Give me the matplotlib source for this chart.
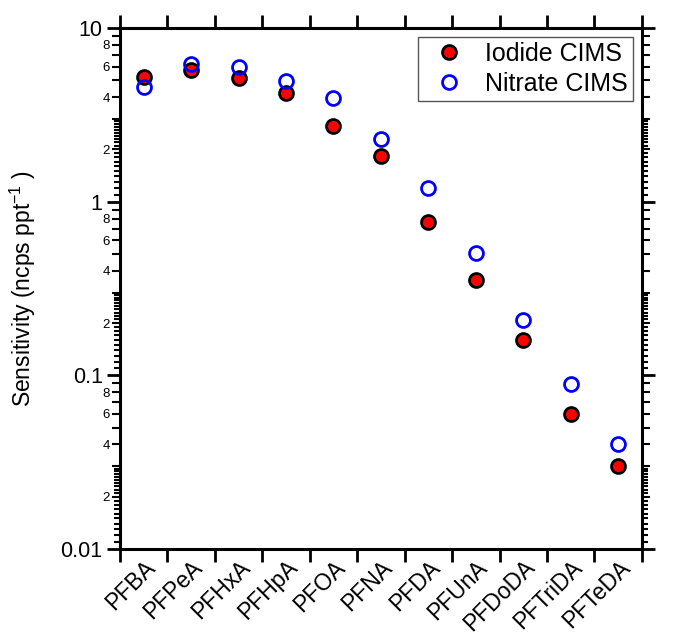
import matplotlib
matplotlib.use("Agg")
import matplotlib.pyplot as plt
import numpy as np
from matplotlib.ticker import FixedLocator, FixedFormatter, NullLocator

plt.rcParams["font.family"] = ["Liberation Sans", "DejaVu Sans"]

compounds = ["PFBA", "PFPeA", "PFHxA", "PFHpA", "PFOA", "PFNA",
             "PFDA", "PFUnA", "PFDoDA", "PFTriDA", "PFTeDA"]
iodide = [5.2, 5.75, 5.15, 4.2, 2.73, 1.83, 0.76, 0.355, 0.16, 0.060, 0.030]
nitrate = [4.55, 6.2, 6.0, 4.95, 3.95, 2.3, 1.2, 0.505, 0.208, 0.089, 0.040]

decades = [0.01, 0.1, 1, 10]
major_labels = ["0.01", "0.1", "1", "10"]

rect = [0.1775, 0.1395, 0.772, 0.8165]
fig = plt.figure(figsize=(6.76, 6.38), dpi=100)

# background axes only for the short sub-minor ticks (1.1 .. 2.9 in each decade)
ax_sub = fig.add_axes(rect, frameon=False)
ax_sub.set_yscale("log")
ax_sub.set_ylim(0.01, 10)
ax_sub.xaxis.set_major_locator(NullLocator())
sub_locs = [d * (1 + k / 10) for d in decades[:-1] for k in range(1, 20) if k != 10]
ax_sub.yaxis.set_major_locator(FixedLocator(sub_locs))
ax_sub.yaxis.set_minor_locator(NullLocator())
ax_sub.tick_params(axis="y", which="major", left=True, right=True, labelleft=False,
                   direction="out", length=4.5, width=1.5, color="black")

ax = fig.add_axes(rect)
ax.patch.set_alpha(0)

x = np.arange(len(compounds))
ax.plot(x, iodide, "o", ms=10, mfc="red", mec="black", mew=2,
        label="Iodide CIMS", zorder=3)
ax.plot(x, nitrate, "o", ms=10, mfc="none", mec="blue", mew=2,
        label="Nitrate CIMS", zorder=3)

ax.set_yscale("log")
ax.set_ylim(0.01, 10)
ax.set_xlim(-0.5, len(compounds) - 0.5)

ax.yaxis.set_major_locator(FixedLocator(decades))
ax.yaxis.set_major_formatter(FixedFormatter(major_labels))
minor_locs = [d * m for d in decades[:-1] for m in range(2, 10)]
minor_labs = [str(m) if m in (2, 4, 6, 8) else "" for d in decades[:-1] for m in range(2, 10)]
ax.yaxis.set_minor_locator(FixedLocator(minor_locs))
ax.yaxis.set_minor_formatter(FixedFormatter(minor_labs))

# x ticks at category boundaries, labels at centres
ax.set_xticks(np.arange(len(compounds) + 1) - 0.5)
ax.set_xticklabels([])
ax.set_xticks(x, minor=True)
ax.set_xticklabels(compounds, minor=True, rotation=45, ha="right",
                   rotation_mode="anchor", fontsize=16.5)

ax.tick_params(which="both", direction="out", top=True, right=True, labelright=False)
ax.tick_params(which="major", length=9.5, width=2, labelsize=15.5, pad=3)
ax.tick_params(axis="y", which="minor", length=6, width=1.5, labelsize=9.5, pad=1.5)
ax.tick_params(axis="x", which="minor", length=0, pad=5)
for s in ax.spines.values():
    s.set_linewidth(2.2)

ax.set_ylabel("Sensitivity (ncps ppt$^{\\mathregular{-1}}$ )", fontsize=16.5)
ax.yaxis.set_label_coords(-0.158, 0.5)

leg = ax.legend(loc="upper right", fontsize=18, frameon=True, fancybox=False,
                edgecolor="#555555", framealpha=1, borderpad=0.2,
                handlelength=2.1, handletextpad=0.4, labelspacing=0.25,
                borderaxespad=0.35)
leg.get_frame().set_linewidth(1)

fig.savefig("out.png", dpi=100)
